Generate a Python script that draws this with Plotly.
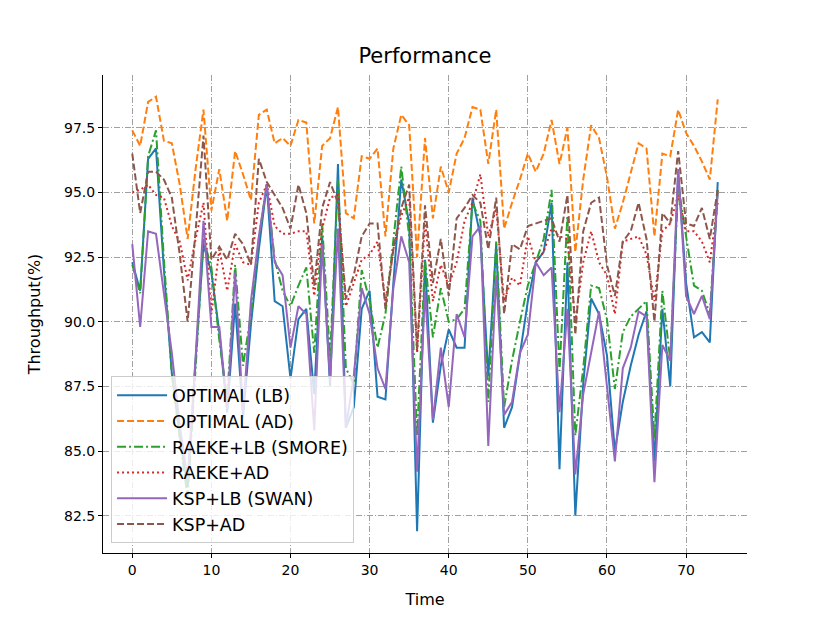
import plotly.graph_objects as go

time = list(range(75))

optimal_lb = [92.3, 91.2, 96.3, 96.7, 92.0, 88.0, 85.6, 83.6, 88.5, 93.0,
              91.9, 89.6, 86.5, 90.7, 86.3, 89.9, 92.8, 95.3, 90.8, 90.6,
              87.8, 90.1, 90.5, 87.2, 93.3, 87.5, 96.1, 85.9, 86.7, 90.5,
              91.2, 87.1, 87.0, 91.5, 95.5, 93.8, 81.9, 92.4, 86.1, 88.3,
              89.7, 89.0, 89.0, 94.8, 93.3, 87.9, 93.0, 85.9, 86.7, 88.8,
              90.8, 92.3, 92.7, 94.6, 84.3, 92.3, 82.5, 87.6, 90.9, 90.3,
              88.7, 85.0, 86.9, 88.3, 89.5, 90.4, 84.6, 90.5, 87.5, 95.8,
              91.5, 89.4, 89.6, 89.2, 95.4]

optimal_ad = [97.4, 96.8, 98.5, 98.7, 97.0, 96.9, 95.3, 93.2, 95.9, 98.2,
              94.3, 95.9, 93.9, 96.6, 95.7, 94.7, 98.0, 98.2, 96.9, 97.1,
              96.8, 97.8, 97.7, 93.8, 96.8, 97.1, 98.3, 94.2, 94.0, 96.4,
              96.3, 96.7, 93.3, 96.7, 98.0, 97.6, 92.5, 97.1, 94.0, 96.0,
              95.0, 96.5, 97.1, 98.3, 98.2, 96.1, 98.2, 93.6, 94.6, 95.5,
              96.5, 95.8, 96.5, 97.8, 96.1, 97.5, 92.7, 95.5, 97.6, 97.1,
              95.6, 93.6, 94.6, 95.8, 96.9, 96.7, 93.3, 96.5, 96.4, 98.2,
              97.3, 96.8, 96.2, 95.5, 98.6]

raeke_lb = [92.2, 91.1, 96.4, 97.4, 92.4, 88.0, 85.5, 83.2, 88.2, 93.2,
            92.1, 89.3, 87.0, 92.2, 88.3, 90.3, 93.2, 95.3, 92.4, 91.2,
            90.6, 91.4, 92.1, 88.8, 93.8, 88.6, 95.5, 88.2, 87.6, 92.0,
            90.8, 89.0, 90.3, 93.2, 96.0, 93.3, 85.6, 92.4, 89.4, 91.3,
            90.0, 90.1, 90.5, 94.6, 93.9, 86.9, 93.1, 86.7, 88.5, 90.0,
            91.4, 92.3, 93.2, 95.1, 88.1, 94.1, 85.6, 88.2, 91.4, 91.3,
            90.1, 87.4, 89.6, 90.2, 90.5, 90.8, 85.5, 91.2, 88.5, 95.3,
            93.3, 91.4, 91.2, 90.3, 95.1]

raeke_ad = [95.0, 95.1, 95.3, 94.9, 94.8, 93.7, 93.1, 91.6, 93.2, 94.6,
            90.3, 92.8, 91.2, 93.0, 92.3, 92.2, 94.6, 95.3, 93.7, 93.4,
            93.4, 93.5, 93.5, 91.0, 93.6, 94.8, 94.9, 90.6, 91.5, 92.4,
            92.6, 93.1, 90.8, 92.8, 94.1, 94.8, 88.8, 93.9, 90.8, 92.2,
            91.4, 92.3, 93.9, 94.6, 95.7, 93.3, 94.4, 90.8, 91.7, 91.4,
            93.3, 92.3, 92.7, 93.6, 93.3, 93.2, 90.0, 92.3, 93.5, 92.3,
            91.8, 90.3, 93.1, 93.2, 93.3, 92.6, 90.8, 93.5, 93.8, 94.9,
            93.5, 93.5, 93.1, 92.3, 94.6]

ksp_lb = [93.0, 89.8, 93.5, 93.4, 91.1, 88.8, 86.0, 83.9, 88.6, 93.9,
          89.8, 89.8, 86.6, 91.9, 86.5, 90.8, 93.3, 95.3, 92.3, 91.8,
          89.0, 90.6, 90.3, 85.8, 93.0, 87.7, 93.6, 85.9, 87.9, 91.3,
          90.3, 88.2, 87.4, 91.3, 93.3, 92.3, 84.2, 91.2, 86.2, 89.0,
          86.7, 90.3, 89.4, 93.3, 93.7, 85.2, 91.8, 86.4, 86.9, 88.8,
          89.5, 92.3, 91.8, 92.1, 86.5, 90.5, 84.1, 87.2, 88.8, 90.4,
          87.5, 84.6, 88.2, 89.0, 90.4, 90.2, 83.8, 89.1, 88.5, 95.9,
          91.0, 90.3, 91.0, 90.1, 95.0]

ksp_ad = [96.5, 94.2, 95.8, 95.8, 95.5, 94.8, 92.6, 90.0, 93.5, 97.2,
          92.4, 92.9, 92.4, 93.4, 93.0, 92.2, 96.3, 95.4, 94.9, 94.4,
          93.6, 95.3, 94.2, 91.4, 94.4, 95.4, 94.6, 90.9, 91.8, 93.3,
          93.8, 93.8, 90.5, 92.8, 94.4, 95.3, 88.9, 94.5, 91.5, 93.2,
          91.0, 94.0, 94.4, 94.9, 94.6, 92.8, 94.8, 90.3, 93.0, 92.8,
          93.7, 93.8, 93.9, 94.0, 93.1, 94.9, 89.5, 93.5, 94.6, 94.8,
          92.2, 91.0, 93.1, 93.5, 94.6, 93.2, 90.0, 94.2, 93.8, 96.6,
          93.8, 93.7, 94.4, 93.2, 95.1]

series = [
    ("OPTIMAL (LB)", optimal_lb, "#1f77b4", "solid"),
    ("OPTIMAL (AD)", optimal_ad, "#ff7f0e", "7px,3px"),
    ("RAEKE+LB (SMORE)", raeke_lb, "#2ca02c", "9px,3px,2px,3px"),
    ("RAEKE+AD", raeke_ad, "#d62728", "2px,3px"),
    ("KSP+LB (SWAN)", ksp_lb, "#9467bd", "solid"),
    ("KSP+AD", ksp_ad, "#8c564b", "7px,3px"),
]

fig = go.Figure()
for name, vals, color, dash in series:
    fig.add_trace(go.Scatter(x=time, y=vals, mode="lines", name=name,
                             line=dict(color=color, width=2, dash=dash)))

font = "DejaVu Sans, sans-serif"
fig.update_layout(
    width=822, height=615,
    margin=dict(l=95, r=83, t=67, b=70),
    paper_bgcolor="white", plot_bgcolor="white",
    font=dict(family=font, size=14, color="black"),
    title=dict(text="Performance", x=0.5, xref="paper", xanchor="center",
               y=1 - 48 / 615, yref="container", yanchor="middle",
               font=dict(size=21)),
    showlegend=True,
    legend=dict(x=0.0125, y=0.02, xanchor="left", yanchor="bottom",
                bgcolor="rgba(255,255,255,0.8)", bordercolor="#cccccc",
                borderwidth=1, font=dict(size=17.5), tracegroupgap=0,
                itemwidth=50),
)
fig.update_xaxes(
    range=[-3.7, 77.7], tickvals=[0, 10, 20, 30, 40, 50, 60, 70],
    showline=True, linecolor="black", linewidth=1, mirror=False,
    ticks="outside", ticklen=4, tickcolor="black",
    showgrid=True, gridcolor="#a0a0a0", gridwidth=0.8, griddash="6px,2px,1px,2px",
    zeroline=False, title=dict(text="Time", standoff=17, font=dict(size=16)),
)
fig.update_yaxes(
    range=[81.06, 99.54], tickvals=[82.5, 85.0, 87.5, 90.0, 92.5, 95.0, 97.5],
    ticktext=["82.5", "85.0", "87.5", "90.0", "92.5", "95.0", "97.5"],
    showline=True, linecolor="black", linewidth=1, mirror=False,
    ticks="outside", ticklen=4, tickcolor="black",
    showgrid=True, gridcolor="#a0a0a0", gridwidth=0.8, griddash="6px,2px,1px,2px",
    zeroline=False, title=dict(text="Throughput(%)", standoff=19, font=dict(size=16)),
)

fig.write_html("out.html")
